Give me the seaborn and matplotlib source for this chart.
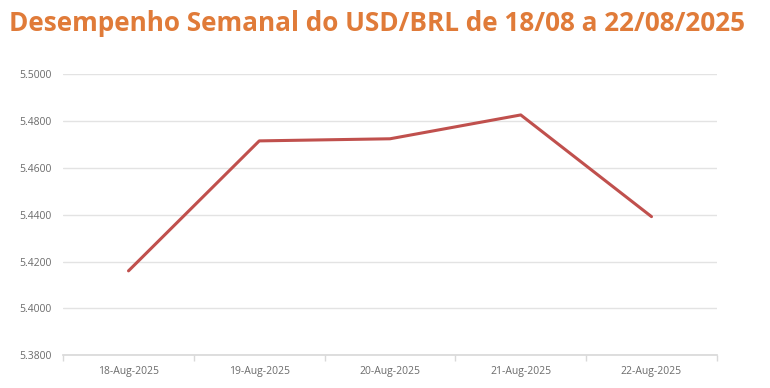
import matplotlib
matplotlib.use("Agg")
import matplotlib.pyplot as plt
import seaborn as sns
import pandas as pd
import numpy as np

dates = ["18-Aug-2025", "19-Aug-2025", "20-Aug-2025", "21-Aug-2025", "22-Aug-2025"]
rates = [5.4160, 5.4716, 5.4725, 5.4827, 5.4392]
y_ticks = [5.38, 5.40, 5.42, 5.44, 5.46, 5.48, 5.50]

title = "Desempenho Semanal do USD/BRL de 18/08 a 22/08/2025"

sns.set_theme(style="white")
plt.rcParams['font.family'] = ['Open Sans', 'DejaVu Sans']

df = pd.DataFrame({"date": dates, "rate": rates})

fig = plt.figure(figsize=(7.7, 3.88), dpi=100)
ax = fig.add_axes([0.082, 0.085, 0.849, 0.723])

sns.lineplot(data=df, x="date", y="rate", ax=ax, color="#C0504D", linewidth=2.2, sort=False)

ax.set_ylim(5.38, 5.50)
ax.set_yticks(y_ticks)
ax.set_yticklabels([f"{v:.4f}" for v in y_ticks])
ax.set_xlim(-0.5, len(dates) - 0.5)
ax.set_xticks(range(len(dates)))
ax.set_xticklabels(dates)
ax.set_xticks(np.arange(-0.5, len(dates), 1.0), minor=True)

ax.grid(axis="y", color="#E3E3E3", linewidth=1)
ax.set_axisbelow(True)
for side in ["top", "right", "left"]:
    ax.spines[side].set_visible(False)
ax.spines["bottom"].set_color("#D9D9D9")
ax.tick_params(axis="both", which="major", length=0, labelsize=7.5, labelcolor="#6B6B6B", pad=8)
ax.tick_params(axis="x", which="minor", length=4, color="#D9D9D9", bottom=True)
ax.set_xlabel("")
ax.set_ylabel("")

fig.text(0.012, 0.94, title, color="#E07B39", fontsize=18.8, fontweight="bold", va="center", ha="left")

plt.savefig("out.png", dpi=100)
plt.close()
